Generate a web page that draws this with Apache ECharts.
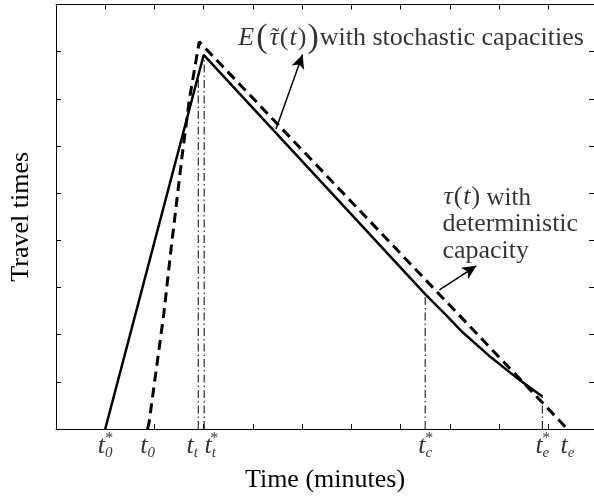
<!DOCTYPE html>
<html><head><meta charset="utf-8">
<script src="https://cdn.jsdelivr.net/npm/echarts@6/dist/echarts.min.js"></script>
<style>html,body{margin:0;padding:0;background:#fff}#c{width:594px;height:498px}</style>
</head><body><div id="c"></div>
<script>
// ---- data ----
const solidX = [1.0, 3.0, 7.5, 7.92, 8.26, 8.79, 9.33, 9.88];
const solidY = [0, 7.93, 2.86, 2.42, 2.05, 1.56, 1.11, 0.69];
const dashX  = [1.86, 1.89, 2.19, 2.34, 2.555, 2.71, 2.91, 10.39];
const dashY  = [0, 0.13, 2.44, 3.84, 5.73, 6.99, 8.21, 0];
const vlineX   = [2.89, 3.01, 7.5, 9.88];
const vlineTop = [7.49, 7.93, 2.86, 0.69];
const tickTimes = [1.0, 1.86, 2.89, 3.01, 7.5, 9.88, 10.39];
const tickSubs  = ['0', '0', 't', 't', 'c', 'e', 'e'];
const tickStar  = [true, false, false, true, true, true, false];
const arrow1 = [[4.47, 6.36], [5.01, 7.94]];
const arrow2 = [[7.79, 2.95], [8.54, 3.46]];
const note1At = [3.684, 8.28];
const note2At = [7.85, 5.20];
const xTitle = 'Time (minutes)';
const yTitle = 'Travel times';

const FF = 'Liberation Serif';
const FS = 26;
const chart = echarts.init(document.getElementById('c'), null, {renderer: 'canvas'});

const nudge = [0, 0, -6, 6, 0, 0, 0];
const series = [];
series.push({type: 'line', name: 'solid', data: solidX.map((x, i) => [x, solidY[i]]),
  symbol: 'none', lineStyle: {color: '#000', width: 2.5}, z: 5, silent: true});
series.push({type: 'line', name: 'dashed', data: dashX.map((x, i) => [x, dashY[i]]),
  symbol: 'none', lineStyle: {color: '#000', width: 3, type: [10, 6]}, z: 5, silent: true});
vlineX.forEach((x, i) => series.push({type: 'line', data: [[x, 0], [x, vlineTop[i]]], symbol: 'none',
  lineStyle: {color: '#000', width: 1, type: [8, 3, 1.5, 3]}, z: 4, silent: true}));
// arrows
series.push({type: 'line', data: [], markLine: {silent: true, symbol: ['none', 'arrow'], symbolSize: [10, 14],
  label: {show: false}, lineStyle: {color: '#000', width: 1.5, type: 'solid'},
  data: [arrow1, arrow2].map(a => [{coord: a[0]}, {coord: a[1]}])}});
// time labels
series.push({type: 'scatter', symbolSize: 0, silent: true,
  data: tickTimes.map((t, i) => ({value: [t, 0], label: {offset: [nudge[i], 0]}})),
  label: {show: true, position: 'bottom', distance: 2,
    formatter: p => '{t|t}{s|' + tickSubs[p.dataIndex] + '}',
    rich: {t: {fontFamily: FF, fontStyle: 'italic', fontSize: FS, lineHeight: 30, color: '#000', verticalAlign: 'middle'},
           s: {fontFamily: FF, fontStyle: 'italic', fontSize: 15, lineHeight: 13, color: '#000', verticalAlign: 'bottom'}}}});
series.push({type: 'scatter', symbolSize: 0, silent: true,
  data: tickTimes.map((t, i) => ({value: [t, 0], label: {show: tickStar[i], offset: [nudge[i] + 4, 0]}})),
  label: {position: 'bottom', distance: 2, formatter: '*', fontFamily: FF, fontSize: 16, lineHeight: 16, color: '#000'}});
// annotations
series.push({type: 'scatter', symbolSize: 0, silent: true, data: [note1At],
  label: {show: true, position: [0, 0], align: 'left', verticalAlign: 'middle',
    formatter: '{i|E}{bp|(}{i|\u03C4}{p|(}{i|t}{p|)}{bp|)}{n|with stochastic capacities}',
    rich: {i: {fontFamily: FF, fontStyle: 'italic', fontSize: FS, color: '#000', padding: [0, 1, 0, 1]},
           bp: {fontFamily: FF, fontSize: 34, color: '#000', padding: [0, 1, 0, 1]},
           p: {fontFamily: FF, fontSize: FS, color: '#000'},
           n: {fontFamily: FF, fontSize: FS, color: '#000'}}}});
// tilde accent over tau
series.push({type: 'scatter', symbolSize: 0, silent: true, data: [note1At],
  label: {show: true, position: [0, 0], align: 'center', verticalAlign: 'middle', offset: [38, -1],
    formatter: '\u02DC', fontFamily: FF, fontSize: 24, color: '#000'}});
series.push({type: 'scatter', symbolSize: 0, silent: true, data: [note2At],
  label: {show: true, position: [0, 0], align: 'left', verticalAlign: 'top',
    formatter: '{i|\u03C4}{p|(}{i|t}{p|)}{w| with}\n{n|deterministic}\n{n|capacity}',
    rich: {i: {fontFamily: FF, fontStyle: 'italic', fontSize: FS, lineHeight: 27, color: '#000', padding: [0, 1, 0, 1]},
           p: {fontFamily: FF, fontSize: FS, lineHeight: 27, color: '#000'},
           w: {fontFamily: FF, fontSize: 25, lineHeight: 20, color: '#000', verticalAlign: 'bottom'},
           n: {fontFamily: FF, fontSize: FS, lineHeight: 27, color: '#000'}}}});

const xMax = 10.93;
const axisCommon = {axisLine: {show: true, onZero: false, lineStyle: {color: '#000', width: 1}},
  axisTick: {show: true, inside: true, length: 5, lineStyle: {color: '#000'}},
  splitLine: {show: false}, axisLabel: {show: false}};
chart.setOption({
  animation: false,
  backgroundColor: '#fff',
  grid: {left: 53, top: 4.5, width: 543, height: 428},
  xAxis: [
    Object.assign({type: 'value', min: 0, max: xMax, interval: 1, position: 'bottom',
      name: xTitle, nameLocation: 'middle', nameGap: 38,
      nameTextStyle: {fontFamily: FF, fontSize: FS, color: '#000'}}, axisCommon),
    Object.assign({type: 'value', min: 0, max: xMax, interval: 1, position: 'top'}, axisCommon)
  ],
  yAxis: [
    Object.assign({type: 'value', min: 0, max: 9, interval: 1, position: 'left',
      name: yTitle, nameLocation: 'middle', nameGap: 22, nameRotate: 90,
      nameTextStyle: {fontFamily: FF, fontSize: FS, color: '#000'}}, axisCommon),
    Object.assign({type: 'value', min: 0, max: 9, interval: 1, position: 'right'}, axisCommon)
  ],
  series: series
});
</script></body></html>
